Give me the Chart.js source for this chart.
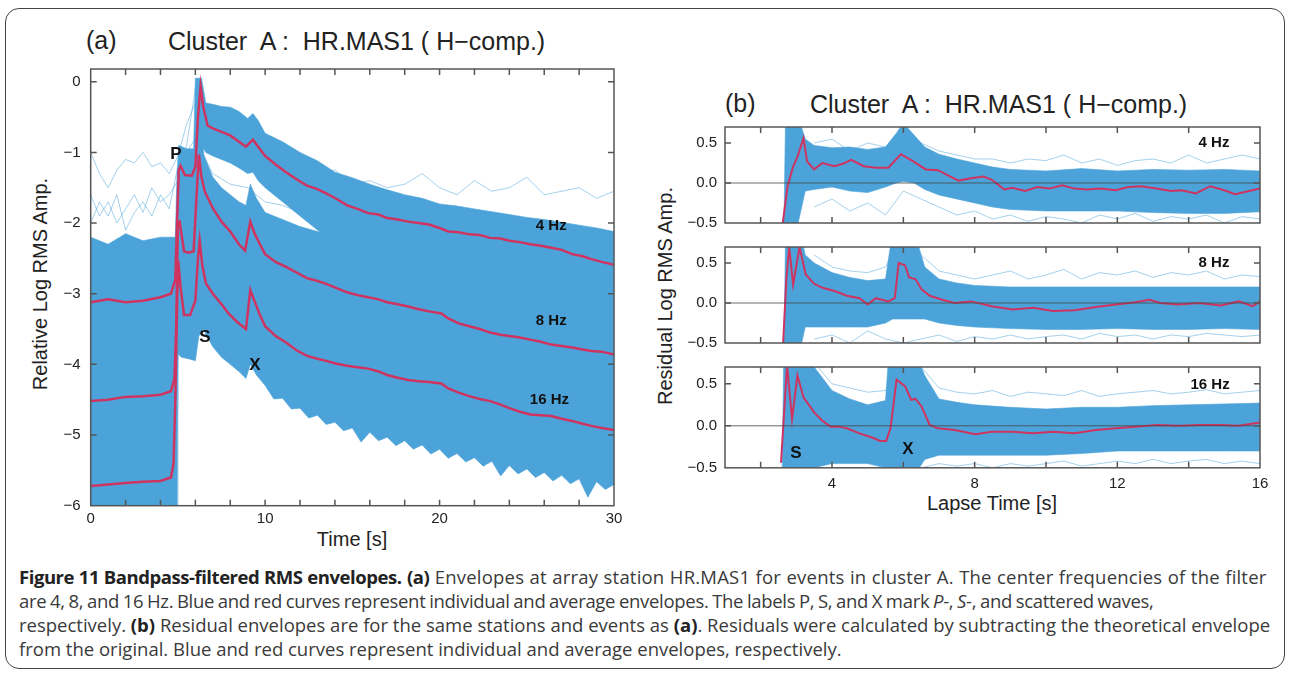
<!DOCTYPE html>
<html>
<head>
<meta charset="utf-8">
<script src="https://cdn.jsdelivr.net/npm/chart.js@4/dist/chart.umd.min.js"></script>
<style>
  body { margin: 0; width: 1289px; height: 674px; overflow: hidden; position: relative; background: #fff;
         font-family: "Liberation Sans", Arial, sans-serif; }
  .box { position: absolute; left: 5px; top: 8px; width: 1280px; height: 661px; border: 1.5px solid #444;
         border-radius: 14px; box-sizing: border-box; }
  canvas { position: absolute; }
  .t { position: absolute; white-space: pre; color: #222; line-height: 1; }
  .mid { transform: translateY(-50%); }
  .ctr { transform: translate(-50%, -50%); }
  .rot { transform: translate(-50%, -50%) rotate(-90deg); }
  .cap { position: absolute; left: 19px; top: 565px; font-family: "Open Sans", sans-serif; font-size: 18.5px;
         line-height: 24px; color: #3a3a3a; white-space: nowrap; }
  .cap b { color: #222; }
  .l1 { letter-spacing: 0.2px; word-spacing: 0.4px; }
  .l1 b { letter-spacing: -0.45px; }
  .l2 { letter-spacing: -0.3px; word-spacing: -0.8px; }
</style>
</head>
<body>
<div class="box"></div>

<div class="t mid" style="left:86px;top:40px;font-size:25px">(a)</div>
<div class="t mid" style="left:168px;top:41px;font-size:25px">Cluster  A :  HR.MAS1 ( H−comp.)</div>
<div class="t rot" style="left:40px;top:284px;font-size:20px">Relative Log RMS Amp.</div>
<div class="t ctr" style="left:352px;top:539px;font-size:20px">Time [s]</div>

<div class="t mid" style="left:725px;top:103px;font-size:25px">(b)</div>
<div class="t mid" style="left:810px;top:104px;font-size:25px">Cluster  A :  HR.MAS1 ( H−comp.)</div>
<div class="t rot" style="left:665px;top:296px;font-size:20px">Residual Log RMS Amp.</div>
<div class="t ctr" style="left:992px;top:503px;font-size:20px">Lapse Time [s]</div>

<canvas id="chartA" width="640" height="490" style="left:0;top:50px"></canvas>
<canvas id="chartB1" width="640" height="130" style="left:640px;top:110px"></canvas>
<canvas id="chartB2" width="640" height="130" style="left:640px;top:230px"></canvas>
<canvas id="chartB3" width="640" height="150" style="left:640px;top:350px"></canvas>

<div class="cap">
  <div class="l1"><b>Figure 11 Bandpass-filtered RMS envelopes.</b> <b>(a)</b> Envelopes at array station HR.MAS1 for events in cluster A. The center frequencies of the filter</div>
  <div class="l2">are 4, 8, and 16 Hz. Blue and red curves represent individual and average envelopes. The labels P, S, and X mark <i>P</i>-, <i>S</i>-, and scattered waves,</div>
  <div>respectively. <b>(b)</b> Residual envelopes are for the same stations and events as <b>(a)</b>. Residuals were calculated by subtracting the theoretical envelope</div>
  <div>from the original. Blue and red curves represent individual and average envelopes, respectively.</div>
</div>

<script>
// ---- panel (a): envelopes, time [s] vs relative log RMS amplitude ----
const A_X_TICKS = [0, 2, 4, 6, 8, 10, 12, 14, 16, 18, 20, 22, 24, 26, 28, 30];
const A_X_LABELS = [0, 10, 20, 30];
const A_Y_TICKS = [-6, -5, -4, -3, -2, -1, 0];

// average envelopes (red)
const MEAN4_T = [0, 1, 2, 3, 4, 4.6, 4.85, 4.95, 5.05, 5.15, 5.4, 5.8, 6.0, 6.15, 6.3, 6.45, 6.7, 7.0, 7.5, 8.0, 8.5, 8.9, 9.3, 9.6, 10, 10.6, 11.2, 11.8, 12.4, 13, 13.5, 14.1, 14.7, 15.3, 15.9, 16.5, 17, 17.6, 18.2, 18.8, 19.4, 20, 20.5, 21.1, 21.7, 22.3, 22.9, 23.5, 24, 24.6, 25.2, 25.8, 26.4, 27, 27.6, 28.2, 28.7, 29.3, 30];
const MEAN4_V = [-3.12, -3.08, -3.12, -3.10, -3.05, -3.0, -2.8, -2.0, -1.25, -1.19, -1.32, -1.33, -1.2, -0.5, -0.06, -0.35, -0.62, -0.66, -0.71, -0.76, -0.85, -0.92, -0.82, -0.92, -1.05, -1.17, -1.28, -1.38, -1.47, -1.52, -1.58, -1.66, -1.75, -1.80, -1.86, -1.88, -1.93, -1.95, -1.98, -2.0, -2.02, -2.07, -2.12, -2.13, -2.16, -2.17, -2.21, -2.22, -2.25, -2.27, -2.30, -2.32, -2.35, -2.38, -2.44, -2.47, -2.51, -2.55, -2.59];

const MEAN8_T = [0, 1, 2, 3, 4, 4.6, 4.8, 4.9, 5.0, 5.1, 5.35, 5.6, 5.9, 6.05, 6.2, 6.35, 6.55, 7.0, 7.5, 8.0, 8.5, 8.85, 9.15, 9.4, 9.7, 10, 10.6, 11.2, 11.8, 12.4, 13, 13.5, 14.1, 14.7, 15.3, 15.9, 16.5, 17, 17.6, 18.2, 18.8, 19.4, 20.1, 20.5, 21.1, 21.7, 22.3, 22.9, 23.5, 24, 24.6, 25.2, 25.8, 26.4, 27, 27.6, 28.2, 28.7, 29.3, 30];
const MEAN8_V = [-4.52, -4.50, -4.46, -4.45, -4.43, -4.38, -4.2, -3.5, -2.0, -1.98, -2.4, -2.42, -2.4, -1.7, -1.03, -1.35, -1.56, -1.79, -1.98, -2.12, -2.3, -2.39, -1.98, -2.15, -2.3, -2.44, -2.55, -2.62, -2.7, -2.78, -2.82, -2.86, -2.92, -2.98, -3.02, -3.05, -3.08, -3.12, -3.15, -3.18, -3.22, -3.25, -3.28, -3.35, -3.42, -3.46, -3.5, -3.55, -3.58, -3.6, -3.62, -3.65, -3.68, -3.72, -3.74, -3.76, -3.79, -3.81, -3.82, -3.86];

const MEAN16_T = [0, 1, 2, 3, 4, 4.6, 4.75, 4.85, 4.95, 5.02, 5.15, 5.35, 5.7, 6.0, 6.15, 6.25, 6.4, 6.6, 7.0, 7.5, 7.9, 8.4, 8.9, 9.15, 9.45, 9.7, 10, 10.6, 11.2, 11.8, 12.4, 13, 13.5, 14.1, 14.7, 15.3, 15.9, 16.5, 17, 17.6, 18.2, 18.8, 19.4, 20.1, 20.5, 21.1, 21.7, 22.3, 22.9, 23.5, 24, 24.6, 25.2, 25.8, 26.4, 27, 27.6, 28.2, 28.7, 29.3, 30];
const MEAN16_V = [-5.72, -5.70, -5.68, -5.66, -5.65, -5.6, -5.4, -4.5, -3.2, -2.53, -2.9, -3.3, -3.3, -3.1, -2.5, -2.25, -2.6, -2.85, -3.0, -3.15, -3.28, -3.4, -3.5, -2.95, -3.14, -3.3, -3.46, -3.6, -3.69, -3.8, -3.88, -3.92, -3.95, -3.99, -4.02, -4.04, -4.06, -4.1, -4.15, -4.19, -4.22, -4.24, -4.25, -4.27, -4.34, -4.4, -4.45, -4.49, -4.52, -4.57, -4.62, -4.67, -4.71, -4.72, -4.73, -4.77, -4.8, -4.84, -4.87, -4.9, -4.93];

// spread of individual envelopes (blue), upper and lower edge of each band
const BAND4_T = [0, 1, 2, 3, 4, 4.85, 4.95, 5.05, 5.5, 5.9, 6.0, 6.35, 6.6, 7, 7.5, 8, 8.5, 9, 9.3, 9.6, 10, 11, 12, 13, 14, 15, 16, 17, 18, 19, 20, 21, 22, 23, 24, 25, 26, 27, 28, 29, 30];
const BAND4_HI = [-2.2, -2.3, -2.15, -2.25, -2.2, -2.2, -1.3, -0.9, -0.95, -0.95, 0.05, 0.05, -0.3, -0.32, -0.35, -0.36, -0.42, -0.52, -0.45, -0.55, -0.73, -0.85, -1.0, -1.12, -1.28, -1.36, -1.45, -1.53, -1.6, -1.65, -1.73, -1.76, -1.8, -1.84, -1.88, -1.92, -1.95, -1.99, -2.03, -2.07, -2.12];
const BAND4_LO = [-3.9, -3.85, -3.9, -3.85, -3.8, -3.8, -3.0, -1.8, -1.9, -1.9, -1.2, -0.9, -1.0, -1.05, -1.1, -1.15, -1.22, -1.3, -1.28, -1.4, -1.5, -1.7, -1.9, -2.1, -2.3, -2.45, -2.58, -2.68, -2.76, -2.84, -2.9, -2.96, -3.02, -3.08, -3.13, -3.18, -3.23, -3.28, -3.33, -3.38, -3.43];

const BAND8_T = [0, 1, 2, 3, 4, 4.85, 4.95, 5.05, 5.3, 5.9, 6.05, 6.25, 6.5, 7, 7.5, 8, 8.5, 8.9, 9.15, 9.5, 10, 11, 12, 13, 14, 15, 16, 17, 18, 19, 20, 21, 22, 23, 24, 25, 26, 27, 28, 29, 30];
const BAND8_HI = [-3.3, -3.35, -3.3, -3.4, -3.3, -3.3, -2.5, -1.25, -1.6, -1.6, -0.9, -0.55, -1.05, -1.35, -1.5, -1.6, -1.7, -1.75, -1.45, -1.65, -1.85, -1.95, -2.05, -2.12, -2.2, -2.27, -2.34, -2.4, -2.45, -2.5, -2.55, -2.6, -2.65, -2.7, -2.75, -2.8, -2.85, -2.9, -2.95, -3.0, -3.05];
const BAND8_LO = [-5.3, -5.35, -5.3, -5.25, -5.3, -5.3, -4.5, -3.2, -3.3, -3.3, -2.8, -2.6, -2.65, -2.9, -3.05, -3.15, -3.25, -3.3, -3.1, -3.3, -3.4, -3.5, -3.6, -3.65, -3.72, -3.78, -3.84, -3.9, -3.95, -4.0, -4.05, -4.1, -4.15, -4.2, -4.25, -4.3, -4.35, -4.4, -4.45, -4.5, -4.55];

const BAND16_T = [0, 1, 2, 3, 4, 4.97, 5.0, 5.2, 5.6, 6.0, 6.2, 6.45, 7, 7.5, 8, 8.5, 8.9, 9.15, 9.5, 10, 10.5, 11, 11.5, 12, 12.5, 13, 13.5, 14, 14.5, 15, 15.5, 16, 16.5, 17, 17.5, 18, 18.5, 19, 19.5, 20, 20.5, 21, 21.5, 22, 22.5, 23, 23.5, 24, 24.5, 25, 25.5, 26, 26.5, 27, 27.5, 28, 28.5, 29, 29.5, 30];
const BAND16_HI = [-4.7, -4.75, -4.7, -4.7, -4.65, -4.6, -2.0, -2.6, -2.9, -2.6, -1.7, -2.3, -2.65, -2.8, -2.95, -3.05, -3.1, -2.5, -2.8, -3.05, -3.12, -3.2, -3.25, -3.3, -3.35, -3.4, -3.42, -3.45, -3.48, -3.5, -3.52, -3.55, -3.58, -3.6, -3.62, -3.65, -3.68, -3.7, -3.72, -3.75, -3.78, -3.8, -3.82, -3.85, -3.88, -3.9, -3.92, -3.95, -3.98, -4.0, -4.02, -4.05, -4.08, -4.1, -4.12, -4.15, -4.18, -4.2, -4.25, -4.3];
const BAND16_LO = [-6.3, -6.3, -6.3, -6.3, -6.3, -6.3, -3.85, -3.9, -3.92, -3.95, -3.6, -3.5, -3.75, -3.9, -4.0, -4.1, -4.2, -4.0, -4.15, -4.3, -4.49, -4.48, -4.63, -4.62, -4.76, -4.72, -4.85, -4.82, -4.94, -4.9, -5.1, -4.96, -5.08, -5.03, -5.15, -5.08, -5.2, -5.14, -5.27, -5.2, -5.33, -5.26, -5.38, -5.32, -5.44, -5.37, -5.58, -5.43, -5.55, -5.48, -5.6, -5.53, -5.65, -5.57, -5.69, -5.62, -5.88, -5.66, -5.77, -5.7];

// a few stray individual envelopes (pale blue)
const STRAY_A_T = [0, 0.5, 1, 1.5, 2, 2.5, 3, 3.5, 4, 4.5, 5, 5.5, 6, 7, 8, 9, 10, 11, 12, 13, 14, 15, 16, 17, 18, 19, 20, 21, 22, 23, 24, 25, 26, 27, 28, 29, 30];
const STRAY_A1 = [-1.0, -1.3, -1.5, -1.25, -1.1, -1.15, -1.0, -1.2, -1.15, -1.3, -1.05, -0.6, -0.3, -0.45, -0.6, -0.75, -0.9, -1.05, -1.15, -1.3, -1.25, -1.45, -1.4, -1.5, -1.45, -1.3, -1.5, -1.6, -1.4, -1.55, -1.5, -1.35, -1.6, -1.55, -1.5, -1.65, -1.55];
const STRAY_A2 = [-1.6, -1.9, -1.7, -2.0, -1.8, -1.6, -1.85, -1.5, -1.7, -1.6, -1.4, -0.9, -0.1, -0.6, -0.7, -0.95, -1.1, -1.3, -1.4, -1.55, -1.6, -1.7, -1.65, -1.8, -1.75, -1.9, -1.85, -1.95, -2.0, -1.9, -2.05, -2.0, -2.1, -2.0, -2.15, -2.1, -2.2];
const STRAY_A3 = [-2.0, -1.7, -1.9, -1.6, -2.1, -1.85, -1.7, -1.9, -1.6, -1.8, -1.2, -1.0, -0.8, -1.3, -1.45, -1.5, -1.7, -1.75, -1.85, -1.95, -2.0, -2.05, -2.1, -2.2, -2.25, -2.3, -2.35, -2.4, -2.45, -2.5, -2.55, -2.6, -2.65, -2.7, -2.75, -2.8, -2.85];

const ANNOT_A = [
  { text: 'P', x: 4.89, y: -1.03, size: 17 }, { text: 'S', x: 6.55, y: -3.61, size: 17 },
  { text: 'X', x: 9.42, y: -4.01, size: 17 }, { text: '4 Hz', x: 26.4, y: -2.04, size: 15 },
  { text: '8 Hz', x: 26.4, y: -3.39, size: 15 }, { text: '16 Hz', x: 26.3, y: -4.5, size: 15 },
];

// ---- panel (b): residual envelopes, lapse time [s] ----
const B_X_TICKS = [2, 4, 6, 8, 10, 12, 14, 16];
const B_X_LABELS = [4, 8, 12, 16];
const B_Y_TICKS = [-0.5, 0, 0.5];

const RES4_T = [2.62, 2.75, 2.9, 3.05, 3.2, 3.3, 3.5, 3.73, 4.07, 4.3, 4.54, 4.89, 5.23, 5.58, 5.93, 6.28, 6.63, 6.97, 7.32, 7.55, 7.9, 8.25, 8.48, 8.83, 9.06, 9.41, 9.76, 10.1, 10.45, 10.8, 11.15, 11.5, 11.96, 12.3, 12.66, 13.1, 13.5, 13.8, 14.2, 14.6, 15.0, 15.3, 15.7, 16];
const RES4_V = [-0.5, -0.05, 0.19, 0.35, 0.56, 0.27, 0.17, 0.25, 0.21, 0.24, 0.29, 0.21, 0.19, 0.19, 0.36, 0.27, 0.17, 0.16, 0.08, 0.03, 0.06, 0.08, 0.04, -0.08, -0.06, -0.10, -0.05, -0.07, -0.03, -0.07, -0.08, -0.07, -0.09, -0.05, -0.04, -0.07, -0.1, -0.09, -0.13, -0.04, -0.09, -0.14, -0.1, -0.07];

const RES8_T = [2.63, 2.72, 2.8, 2.91, 3.09, 3.26, 3.5, 3.73, 4.07, 4.42, 4.77, 5.0, 5.23, 5.58, 5.76, 5.87, 6.05, 6.16, 6.34, 6.51, 6.74, 7.09, 7.44, 7.9, 8.48, 9.06, 9.64, 10.2, 10.8, 11.4, 11.96, 12.5, 12.9, 13.2, 13.7, 14.3, 14.9, 15.4, 15.8, 16];
const RES8_V = [-0.5, 0.3, 0.7, 0.23, 0.7, 0.36, 0.24, 0.19, 0.15, 0.09, 0.06, -0.02, 0.06, 0.02, 0.06, 0.5, 0.47, 0.32, 0.30, 0.17, 0.09, 0.04, 0.0, 0.02, -0.04, -0.08, -0.06, -0.1, -0.09, -0.05, -0.02, 0.01, 0.04, 0.0, -0.02, 0.0, -0.03, 0.02, -0.04, 0.02];

const RES16_T = [2.57, 2.74, 2.88, 3.03, 3.2, 3.5, 3.73, 3.96, 4.19, 4.42, 4.77, 5.12, 5.35, 5.52, 5.64, 5.81, 6.05, 6.22, 6.34, 6.51, 6.74, 6.97, 7.44, 8.02, 8.48, 9.06, 9.64, 10.2, 10.8, 11.4, 11.96, 12.5, 13.1, 13.7, 14.3, 14.9, 15.4, 16];
const RES16_V = [-0.44, 0.72, 0.08, 0.6, 0.34, 0.16, 0.06, -0.01, -0.01, -0.03, -0.09, -0.14, -0.18, -0.18, -0.03, 0.55, 0.47, 0.31, 0.32, 0.23, 0.01, -0.03, -0.05, -0.1, -0.07, -0.07, -0.09, -0.07, -0.09, -0.05, -0.03, -0.01, 0.01, 0.0, 0.01, 0.01, 0.0, 0.04];

const RBAND4_T = [2.65, 2.7, 3.0, 3.25, 3.5, 4, 4.5, 5, 5.5, 5.8, 6.0, 6.3, 6.6, 7, 7.5, 8, 8.5, 9, 10, 11, 12, 13, 14, 15, 16];
const RBAND4_HI = [-0.6, 0.9, 0.9, 0.55, 0.47, 0.44, 0.45, 0.42, 0.45, 0.62, 0.75, 0.6, 0.45, 0.36, 0.3, 0.25, 0.2, 0.17, 0.15, 0.18, 0.15, 0.17, 0.16, 0.17, 0.15];
const RBAND4_LO = [-0.6, -0.6, -0.6, -0.1, -0.08, -0.05, -0.1, -0.12, -0.05, 0.0, 0.02, 0.0, -0.08, -0.15, -0.2, -0.25, -0.3, -0.33, -0.35, -0.35, -0.35, -0.37, -0.38, -0.38, -0.36];

const RBAND8_T = [2.65, 2.7, 3.1, 3.25, 3.5, 4, 4.5, 5, 5.5, 5.7, 6.3, 6.6, 7, 7.5, 8, 9, 10, 11, 12, 13, 14, 15, 16];
const RBAND8_HI = [-0.6, 0.9, 0.9, 0.6, 0.5, 0.38, 0.32, 0.28, 0.3, 0.9, 0.9, 0.45, 0.3, 0.25, 0.22, 0.2, 0.2, 0.2, 0.2, 0.2, 0.2, 0.2, 0.2];
const RBAND8_LO = [-0.6, -0.6, -0.6, -0.3, -0.3, -0.3, -0.3, -0.3, -0.25, -0.2, -0.2, -0.2, -0.25, -0.28, -0.3, -0.32, -0.33, -0.33, -0.32, -0.33, -0.33, -0.32, -0.33];

const RBAND16_T = [2.6, 2.65, 3.0, 3.1, 3.5, 4, 4.5, 5, 5.5, 5.6, 6.3, 6.6, 7, 7.5, 8, 9, 10, 11, 12, 13, 14, 15, 16];
const RBAND16_HI = [-0.6, 0.9, 0.9, 0.8, 0.7, 0.42, 0.32, 0.25, 0.3, 0.9, 0.9, 0.6, 0.32, 0.28, 0.25, 0.22, 0.2, 0.22, 0.22, 0.24, 0.25, 0.26, 0.27];
const RBAND16_LO = [-0.6, -0.6, -0.6, -0.5, -0.5, -0.45, -0.45, -0.45, -0.5, -0.6, -0.6, -0.4, -0.35, -0.35, -0.35, -0.35, -0.35, -0.33, -0.3, -0.3, -0.3, -0.3, -0.3];

const STRAY_B_T = [3.5, 4, 4.5, 5, 5.5, 6, 6.5, 7, 7.5, 8, 8.5, 9, 9.5, 10, 10.5, 11, 11.5, 12, 12.5, 13, 13.5, 14, 14.5, 15, 15.5, 16];
const STRAY_B4_LO = [-0.3, -0.2, -0.35, -0.25, -0.4, -0.1, -0.2, -0.3, -0.4, -0.35, -0.45, -0.4, -0.48, -0.42, -0.45, -0.5, -0.4, -0.45, -0.38, -0.48, -0.42, -0.45, -0.4, -0.5, -0.42, -0.45];
const STRAY_B4_HI = [0.5, 0.55, 0.4, 0.5, 0.45, 0.7, 0.5, 0.4, 0.35, 0.3, 0.3, 0.25, 0.3, 0.28, 0.35, 0.25, 0.3, 0.22, 0.28, 0.3, 0.25, 0.35, 0.25, 0.3, 0.35, 0.3];
const STRAY_B8_LO = [-0.45, -0.4, -0.5, -0.35, -0.45, -0.5, -0.45, -0.4, -0.48, -0.42, -0.45, -0.4, -0.45, -0.42, -0.4, -0.45, -0.38, -0.42, -0.4, -0.45, -0.4, -0.42, -0.38, -0.4, -0.42, -0.4];
const STRAY_B8_HI = [0.6, 0.45, 0.4, 0.38, 0.45, 0.9, 0.6, 0.4, 0.35, 0.3, 0.35, 0.4, 0.3, 0.35, 0.42, 0.3, 0.38, 0.35, 0.4, 0.32, 0.38, 0.35, 0.4, 0.3, 0.35, 0.33];
const STRAY_B16_LO = [-0.55, -0.5, -0.55, -0.5, -0.55, -0.6, -0.5, -0.45, -0.48, -0.45, -0.5, -0.45, -0.48, -0.45, -0.42, -0.48, -0.45, -0.42, -0.45, -0.4, -0.45, -0.42, -0.4, -0.45, -0.42, -0.45];
const STRAY_B16_HI = [0.75, 0.5, 0.45, 0.4, 0.42, 0.9, 0.7, 0.45, 0.4, 0.38, 0.42, 0.35, 0.4, 0.38, 0.36, 0.42, 0.35, 0.38, 0.4, 0.42, 0.38, 0.4, 0.43, 0.38, 0.4, 0.42];

const ANNOT_B4 = [{ text: '4 Hz', x: 14.71, y: 0.5, size: 15 }];
const ANNOT_B8 = [{ text: '8 Hz', x: 14.71, y: 0.5, size: 15 }];
const ANNOT_B16 = [{ text: '16 Hz', x: 14.6, y: 0.49, size: 15 }, { text: 'S', x: 2.99, y: -0.33, size: 17 }, { text: 'X', x: 6.13, y: -0.28, size: 17 }];

// ---- drawing ----
const BLUE = '#4ca3d9';
const PALE = 'rgba(76,163,217,0.5)';
const RED = '#cf3460';
const FONT = '"Liberation Sans", Arial, sans-serif';

const pts = (t, v) => t.map((x, i) => ({ x, y: v[i] }));
const lineDs = (t, v, color, width, order) =>
  ({ data: pts(t, v), borderColor: color, borderWidth: width, pointRadius: 0, fill: false, tension: 0, order });
const bandDs = (t, lo, hi) => [
  { data: pts(t, lo), borderColor: BLUE, borderWidth: 0.6, pointRadius: 0, fill: false, order: 3 },
  { data: pts(t, hi), borderColor: BLUE, borderWidth: 0.6, pointRadius: 0, backgroundColor: BLUE, fill: '-1', order: 3 },
];

// frame with inward ticks on all four sides, zero line and in-plot labels
const framePlugin = {
  id: 'frame',
  afterDatasetsDraw(chart, args, opts) {
    const { ctx, chartArea: a, scales: { x, y } } = chart;
    ctx.save();
    if (opts.zero) {
      const p = y.getPixelForValue(0);
      ctx.strokeStyle = 'rgba(70,70,70,0.8)'; ctx.lineWidth = 1;
      ctx.beginPath(); ctx.moveTo(a.left, p); ctx.lineTo(a.right, p); ctx.stroke();
    }
    ctx.strokeStyle = '#555'; ctx.lineWidth = 1.5;
    ctx.strokeRect(a.left, a.top, a.right - a.left, a.bottom - a.top);
    const L = 6;
    ctx.beginPath();
    x.ticks.forEach(t => {
      const p = x.getPixelForValue(t.value);
      if (p <= a.left + 1 || p >= a.right - 1) return;
      ctx.moveTo(p, a.bottom); ctx.lineTo(p, a.bottom - L);
      ctx.moveTo(p, a.top); ctx.lineTo(p, a.top + L);
    });
    y.ticks.forEach(t => {
      const p = y.getPixelForValue(t.value);
      if (p <= a.top + 1 || p >= a.bottom - 1) return;
      ctx.moveTo(a.left, p); ctx.lineTo(a.left + L, p);
      ctx.moveTo(a.right, p); ctx.lineTo(a.right - L, p);
    });
    ctx.stroke();
    ctx.fillStyle = '#111'; ctx.textAlign = 'center'; ctx.textBaseline = 'middle';
    (opts.labels || []).forEach(l => {
      ctx.font = `bold ${l.size}px ${FONT}`;
      ctx.fillText(l.text, x.getPixelForValue(l.x), y.getPixelForValue(l.y));
    });
    ctx.restore();
  },
};

function makeChart(id, datasets, o) {
  return new Chart(document.getElementById(id), {
    type: 'line',
    data: { datasets },
    plugins: [framePlugin],
    options: {
      responsive: false, animation: false, events: [],
      layout: { padding: o.pad },
      plugins: { legend: { display: false }, tooltip: { enabled: false }, frame: { labels: o.labels, zero: o.zero } },
      scales: {
        x: {
          type: 'linear', min: o.xMin, max: o.xMax,
          grid: { display: false, drawTicks: false }, border: { display: false },
          ticks: { display: o.showX, padding: o.xPad, color: '#222', font: { family: FONT, size: 15 }, maxRotation: 0, autoSkip: false,
                   callback: v => (o.xLabels.includes(v) ? String(v) : '') },
          afterBuildTicks: s => { s.ticks = o.xTicks.map(value => ({ value })); },
          afterFit: s => { s.height = o.xHeight; },
        },
        y: {
          type: 'linear', min: o.yMin, max: o.yMax,
          grid: { display: false, drawTicks: false }, border: { display: false },
          ticks: { padding: o.yPad, color: '#222', font: { family: FONT, size: 15 }, autoSkip: false, callback: o.yFmt },
          afterBuildTicks: s => { s.ticks = o.yTicks.map(value => ({ value })); },
          afterFit: s => { s.width = o.yWidth; },
        },
      },
    },
  });
}

const fmtA = v => (v === 0 ? '0' : '\u2212' + Math.abs(v));
const fmtB = v => (v === 0 ? '0.0' : (v < 0 ? '\u2212' : '') + Math.abs(v).toFixed(1));

makeChart('chartA', [
  lineDs(MEAN4_T, MEAN4_V, RED, 2.5, 0),
  lineDs(MEAN8_T, MEAN8_V, RED, 2.5, 0),
  lineDs(MEAN16_T, MEAN16_V, RED, 2.5, 0),
  lineDs(STRAY_A_T, STRAY_A1, PALE, 1, 1),
  lineDs(STRAY_A_T, STRAY_A2, PALE, 1, 1),
  lineDs(STRAY_A_T, STRAY_A3, PALE, 1, 1),
  ...bandDs(BAND4_T, BAND4_LO, BAND4_HI),
  ...bandDs(BAND8_T, BAND8_LO, BAND8_HI),
  ...bandDs(BAND16_T, BAND16_LO, BAND16_HI),
], {
  xMin: 0, xMax: 30, xTicks: A_X_TICKS, xLabels: A_X_LABELS, showX: true, xPad: 4, xHeight: 34.3,
  yMin: -6, yMax: 0.18, yTicks: A_Y_TICKS, yFmt: fmtA, yPad: 10, yWidth: 90.7,
  pad: { top: 10, right: 26, left: 0, bottom: 0 }, labels: ANNOT_A,
});

const bOpts = {
  xMin: 1, xMax: 16, xTicks: B_X_TICKS, xLabels: B_X_LABELS, xPad: 7,
  yMin: -0.5, yMax: 0.7, yTicks: B_Y_TICKS, yFmt: fmtB, yPad: 8, yWidth: 85, zero: true,
};

makeChart('chartB1', [
  lineDs(RES4_T, RES4_V, RED, 2, 0),
  lineDs(STRAY_B_T, STRAY_B4_LO, PALE, 1, 1),
  lineDs(STRAY_B_T, STRAY_B4_HI, PALE, 1, 1),
  ...bandDs(RBAND4_T, RBAND4_LO, RBAND4_HI),
], { ...bOpts, showX: false, xHeight: 12.3, pad: { top: 11.2, right: 20, left: 0, bottom: 0 }, labels: ANNOT_B4 });

makeChart('chartB2', [
  lineDs(RES8_T, RES8_V, RED, 2, 0),
  lineDs(STRAY_B_T, STRAY_B8_LO, PALE, 1, 1),
  lineDs(STRAY_B_T, STRAY_B8_HI, PALE, 1, 1),
  ...bandDs(RBAND8_T, RBAND8_LO, RBAND8_HI),
], { ...bOpts, showX: false, xHeight: 10.7, pad: { top: 13, right: 20, left: 0, bottom: 0 }, labels: ANNOT_B8 });

makeChart('chartB3', [
  lineDs(RES16_T, RES16_V, RED, 2, 0),
  lineDs(STRAY_B_T, STRAY_B16_LO, PALE, 1, 1),
  lineDs(STRAY_B_T, STRAY_B16_HI, PALE, 1, 1),
  ...bandDs(RBAND16_T, RBAND16_LO, RBAND16_HI),
], { ...bOpts, showX: true, xHeight: 32.2, pad: { top: 11.5, right: 20, left: 0, bottom: 0 }, labels: ANNOT_B16 });
</script>
</body>
</html>
